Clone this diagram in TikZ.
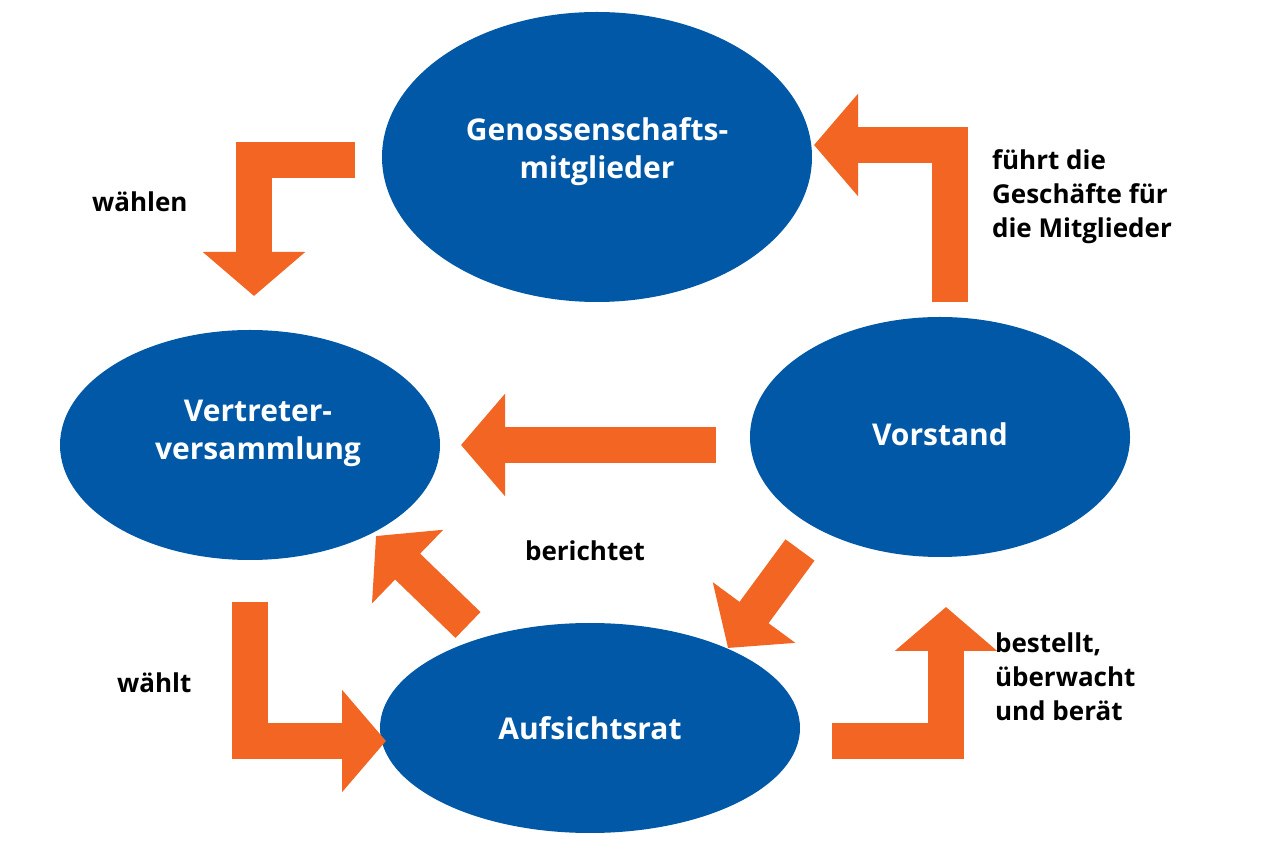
\documentclass[tikz,border=0pt]{standalone}
\usepackage{fontspec}
\setmainfont{Open Sans}
\usetikzlibrary{arrows.meta}
\definecolor{eblue}{HTML}{0058A6}
\definecolor{eorange}{HTML}{F26522}
\begin{document}
\begin{tikzpicture}[x=0.5pt,y=-0.5pt,
  ell/.style={fill=eblue,ellipse,draw=none,text=white,font=\fontsize{15}{18}\selectfont\bfseries,align=center},
  arr/.style={draw=eorange,line width=18pt,line join=miter,-{Triangle[width=50pt,length=22pt]},eorange},
  lab/.style={font=\fontsize{13}{17}\selectfont\bfseries,align=left,anchor=west}]
\useasboundingbox (0,0) rectangle (1280,854);
\fill[eblue] (597,157) ellipse [x radius=215,y radius=145];
\node[text=white,font=\fontsize{15}{19}\selectfont\bfseries,align=center] (g) at (597,152) {Genossenschafts-\\mitglieder};
\fill[eblue] (250,445) ellipse [x radius=190,y radius=115];
\node[text=white,font=\fontsize{15}{19}\selectfont\bfseries,align=center] (v) at (258,433) {Vertreter-\\versammlung};
\fill[eblue] (940,437) ellipse [x radius=190,y radius=120];
\node[text=white,font=\fontsize{15}{19}\selectfont\bfseries] (s) at (940,434) {Vorstand};
\fill[eblue] (590,728) ellipse [x radius=210,y radius=105];
\node[text=white,font=\fontsize{15}{19}\selectfont\bfseries] (a) at (590,728) {Aufsichtsrat};
\coordinate (a1) at (355,160); \coordinate (a1m) at (254,160); \coordinate (a1e) at (254,296);
\draw[arr] (a1) -- (a1m) -- (a1e);
\coordinate (a2) at (950,302); \coordinate (a2m) at (950,145); \coordinate (a2e) at (814,145);
\draw[arr] (a2) -- (a2m) -- (a2e);
\coordinate (a3) at (716,445); \coordinate (a3e) at (461,445);
\draw[arr] (a3) -- (a3e);
\coordinate (a4) at (800,550); \coordinate (a4e) at (728,648);
\draw[arr] (a4) -- (a4e);
\coordinate (a5) at (468,625); \coordinate (a5e) at (376,536);
\draw[arr] (a5) -- (a5e);
\coordinate (a6) at (250,602); \coordinate (a6m) at (250,741); \coordinate (a6e) at (386,741);
\draw[arr] (a6) -- (a6m) -- (a6e);
\coordinate (a7) at (832,741); \coordinate (a7m) at (946,741); \coordinate (a7e) at (946,607);
\draw[arr] (a7) -- (a7m) -- (a7e);
\node[lab] (l1) at (85,202) {wählen};
\node[lab] (l2) at (985,197) {führt die\\Geschäfte für\\die Mitglieder};
\node[lab] (l3) at (518,551) {berichtet};
\node[lab] (l4) at (110,683) {wählt};
\node[lab] (l5) at (988,677) {bestellt,\\überwacht\\und berät};
\end{tikzpicture}
\end{document}
